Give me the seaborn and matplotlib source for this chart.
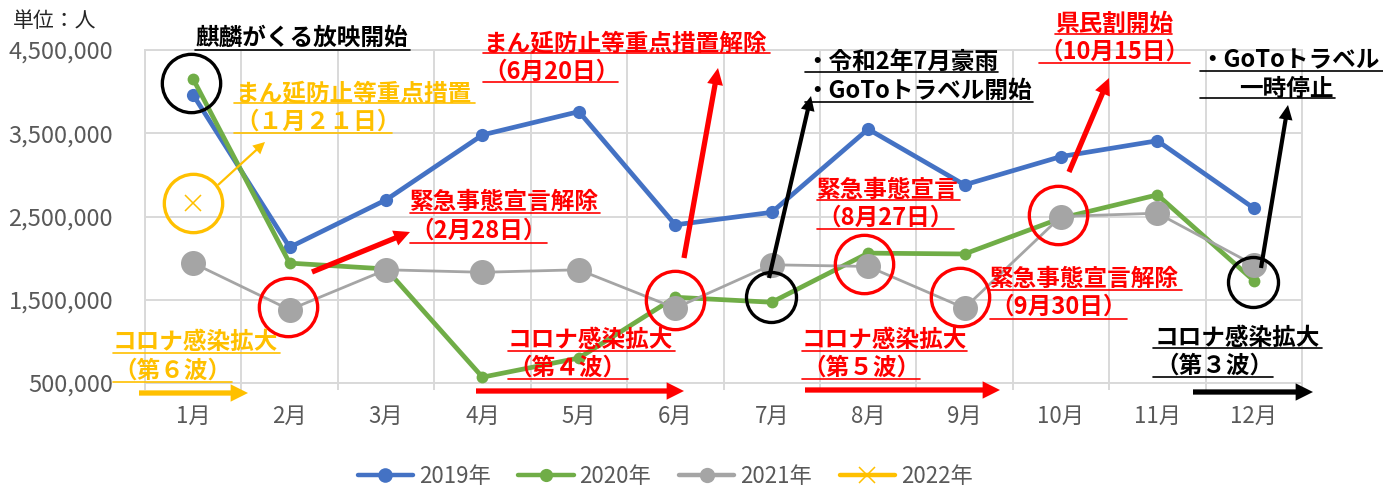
import numpy as np
import pandas as pd
import matplotlib
matplotlib.use('Agg')
import matplotlib.pyplot as plt
import seaborn as sns
from matplotlib.patches import FancyArrowPatch
from matplotlib.lines import Line2D
from matplotlib.ticker import FuncFormatter
from matplotlib.transforms import offset_copy

# ---------------- data ----------------
months = ['1月', '2月', '3月', '4月', '5月', '6月', '7月', '8月', '9月', '10月', '11月', '12月']
v2019 = [3960000, 2130000, 2700000, 3480000, 3760000, 2400000, 2550000, 3550000, 2880000, 3220000, 3410000, 2600000]
v2020 = [4150000, 1940000, 1870000, 570000, 800000, 1530000, 1470000, 2060000, 2050000, 2480000, 2760000, 1730000]
v2021 = [1940000, 1380000, 1860000, 1830000, 1860000, 1400000, 1920000, 1900000, 1400000, 2500000, 2540000, 1920000]
months2022 = ['1月']
v2022 = [2660000]
y_ticks = [500000, 1500000, 2500000, 3500000, 4500000]
series_labels = ['2019年', '2020年', '2021年', '2022年']

BLUE, GREEN, GRAY, ORANGE, RED, BLACK = '#4472C4', '#70AD47', '#A5A5A5', '#FFC000', '#FF0000', '#000000'
GRID = '#D9D9D9'
TXT = '#595959'

sns.set_theme(style='white')
plt.rcParams['font.family'] = ['Noto Sans CJK JP', 'DejaVu Sans']

W, H = 1383, 486
fig = plt.figure(figsize=(W / 100, H / 100), dpi=100)
L, R, T, B = 145, 1302, 50, 383
ax = fig.add_axes([L / W, (H - B) / H, (R - L) / W, (B - T) / H])

sns.lineplot(x=months, y=v2019, ax=ax, color=BLUE, linewidth=3.4, marker='o', markersize=9.5,
             markeredgewidth=0, label=series_labels[0], errorbar=None, sort=False, zorder=3)
sns.lineplot(x=months, y=v2020, ax=ax, color=GREEN, linewidth=3.4, marker='o', markersize=8.5,
             markeredgewidth=0, label=series_labels[1], errorbar=None, sort=False, zorder=3)
sns.lineplot(x=months, y=v2021, ax=ax, color=GRAY, linewidth=2.0, marker='o', markersize=18,
             markeredgewidth=0, label=series_labels[2], errorbar=None, sort=False, zorder=3)
sns.lineplot(x=months2022, y=v2022, ax=ax, color=ORANGE, linewidth=3.4, marker='x', markersize=12,
             markeredgewidth=1.1, markeredgecolor=ORANGE, label=series_labels[3], errorbar=None,
             sort=False, zorder=3)

# axes styling
ax.set_xlim(-0.5, len(months) - 0.5)
ax.set_ylim(y_ticks[0], y_ticks[-1])
ax.set_yticks(y_ticks)
ax.yaxis.set_major_formatter(FuncFormatter(lambda v, p: f'{int(v):,}'))
ax.set_xticks(range(len(months)))
ax.set_xticklabels(months)
ax.set_xticks(np.arange(-0.5, len(months), 1.0), minor=True)
ax.set_xlabel('')
ax.set_ylabel('')
ax.grid(False)
ax.grid(which='major', axis='y', color=GRID, linewidth=1.4)
ax.grid(which='minor', axis='x', color=GRID, linewidth=1.4)
for s in ax.spines.values():
    s.set_color(GRID)
    s.set_linewidth(1.4)
ax.tick_params(axis='y', which='both', length=0, pad=23, labelsize=17, labelcolor=TXT)
ax.tick_params(axis='x', which='major', length=0, pad=16, labelsize=16, labelcolor=TXT)
ax.tick_params(axis='x', which='minor', length=5, width=1.4, color=GRID, bottom=True)

h, l = ax.get_legend_handles_labels()
leg = ax.legend(h, l, loc='center', bbox_to_anchor=(665 / W, 10 / H), bbox_transform=fig.transFigure,
                ncol=4, frameon=False, fontsize=16, handlelength=2.5, columnspacing=1.25,
                handletextpad=0.25)
for t in leg.get_texts():
    t.set_color(TXT)
for hd, ms in zip(leg.legend_handles, [10.5, 9.5, 11, 12]):
    hd.set_markersize(ms)
    hd.set_linewidth(3.2)

# ---------------- annotations ----------------
def fx(px):
    return px / W

def fy(py):
    return (H - py) / H

def text(s, px, py, color, ha='left', size=17, weight='bold'):
    fig.text(fx(px), fy(py), s, color=color, ha=ha, va='center', fontsize=size, fontweight=weight)

def uline(x1, x2, py, color):
    fig.add_artist(Line2D([fx(x1), fx(x2)], [fy(py), fy(py)], transform=fig.transFigure,
                          color=color, linewidth=1.2))

def arrow(p0, p1, color, tail, head_w, head_l):
    a = FancyArrowPatch((fx(p0[0]), fy(p0[1])), (fx(p1[0]), fy(p1[1])), transform=fig.transFigure,
                        arrowstyle=f'simple,head_length={head_l},head_width={head_w},tail_width={tail}',
                        mutation_scale=1, color=color, linewidth=0, shrinkA=0, shrinkB=0, zorder=8)
    fig.add_artist(a)

def ring(i, value, color, size, dx=0, dy=0):
    tr = offset_copy(ax.transData, fig=fig, x=dx, y=dy, units='dots')
    ax.plot([i], [value], transform=tr, marker='o', markersize=size, markerfacecolor='none',
            markeredgecolor=color, markeredgewidth=2.4, linestyle='none', clip_on=False, zorder=6)

# unit label
text('単位：人', 13, 21, '#262626', size=15, weight='normal')

# rings
ring(0, (v2019[0] + v2020[0]) / 2, BLACK, 42, dx=-2, dy=4)
ring(0, v2022[0], ORANGE, 42)
ring(1, v2021[1], RED, 42, dx=-2, dy=3)
ring(5, (v2020[5] + v2021[5]) / 2, RED, 42, dy=3)
ring(6, v2020[6], BLACK, 36, dx=-1, dy=5)
ring(7, v2021[7], RED, 42, dx=-4, dy=2)
ring(8, v2021[8], RED, 42, dx=-5, dy=11)
ring(9, v2021[9], RED, 42, dx=-3, dy=2)
ring(11, v2020[11], BLACK, 36, dx=-1, dy=-1)

# 麒麟がくる
text('麒麟がくる放映開始', 302, 38, BLACK, ha='center')
uline(195, 410, 50, BLACK)

# まん延防止等重点措置 (orange)
text('まん延防止等重点措置', 235, 93, ORANGE)
uline(234, 475, 103, ORANGE)
text('（１月２１日）', 235, 122, ORANGE)
uline(234, 392, 133, ORANGE)
arrow((218, 185), (265, 142), ORANGE, 1.6, 8.5, 8.5)

# 緊急事態宣言解除 2/28
text('緊急事態宣言解除', 410, 202, RED)
uline(410, 600, 213, RED)
text('（2月28日）', 410, 231, RED)
uline(410, 547, 243, RED)
arrow((312, 272), (410, 232), RED, 3.8, 11.5, 11.5)

# まん延防止等重点措置解除 6/20
text('まん延防止等重点措置解除', 483, 43, RED)
uline(483, 770, 53, RED)
text('（6月20日）', 483, 72, RED)
uline(483, 618, 82, RED)
arrow((684, 258), (718, 68), RED, 3.8, 11.5, 12)

# 令和2年7月豪雨 / GoTo開始
text('・令和2年7月豪雨', 805, 62, BLACK)
uline(805, 998, 72, BLACK)
text('・GoToトラベル開始', 805, 91, BLACK)
uline(805, 1033, 102, BLACK)
arrow((769, 278), (811, 96), BLACK, 3.0, 10, 10.5)

# 緊急事態宣言 8/27
text('緊急事態宣言', 817, 190, RED)
uline(817, 960, 200, RED)
text('（8月27日）', 817, 218, RED)
uline(817, 954, 229, RED)

# 緊急事態宣言解除 9/30
text('緊急事態宣言解除', 990, 279, RED)
uline(990, 1182, 290, RED)
text('（9月30日）', 990, 307, RED)
uline(990, 1127, 319, RED)

# 県民割開始
text('県民割開始', 1114, 24, RED, ha='center')
uline(1055, 1172, 34, RED)
text('（10月15日）', 1114, 52, RED, ha='center')
uline(1039, 1190, 63, RED)
arrow((1069, 172), (1109, 78), RED, 3.8, 11.5, 12)

# GoTo一時停止
text('・GoToトラベル', 1200, 60, BLACK)
uline(1200, 1383, 71, BLACK)
text('一時停止', 1286, 89, BLACK, ha='center')
uline(1200, 1335, 98, BLACK)
arrow((1261, 268), (1288, 105), BLACK, 3.0, 10, 10.5)

# waves
text('コロナ感染拡大', 113, 342, ORANGE)
uline(113, 280, 353, ORANGE)
text('（第６波）', 113, 371, ORANGE)
uline(113, 232, 382, ORANGE)
arrow((139, 393), (248, 393), ORANGE, 3.8, 12.5, 12.5)

text('コロナ感染拡大', 508, 340, RED)
uline(508, 675, 351, RED)
text('（第４波）', 508, 368, RED)
uline(508, 628, 379, RED)
arrow((476, 391), (684, 391), RED, 3.8, 12.5, 12.5)

text('コロナ感染拡大', 802, 340, RED)
uline(802, 967, 351, RED)
text('（第５波）', 802, 368, RED)
uline(802, 920, 379, RED)
arrow((805, 390), (1000, 390), RED, 3.8, 12.5, 12.5)

text('コロナ感染拡大', 1155, 338, BLACK)
uline(1153, 1322, 348, BLACK)
text('（第３波）', 1155, 366, BLACK)
uline(1153, 1273, 377, BLACK)
arrow((1193, 392), (1313, 392), BLACK, 3.8, 12.5, 12.5)

fig.savefig('out.png', dpi=100)
